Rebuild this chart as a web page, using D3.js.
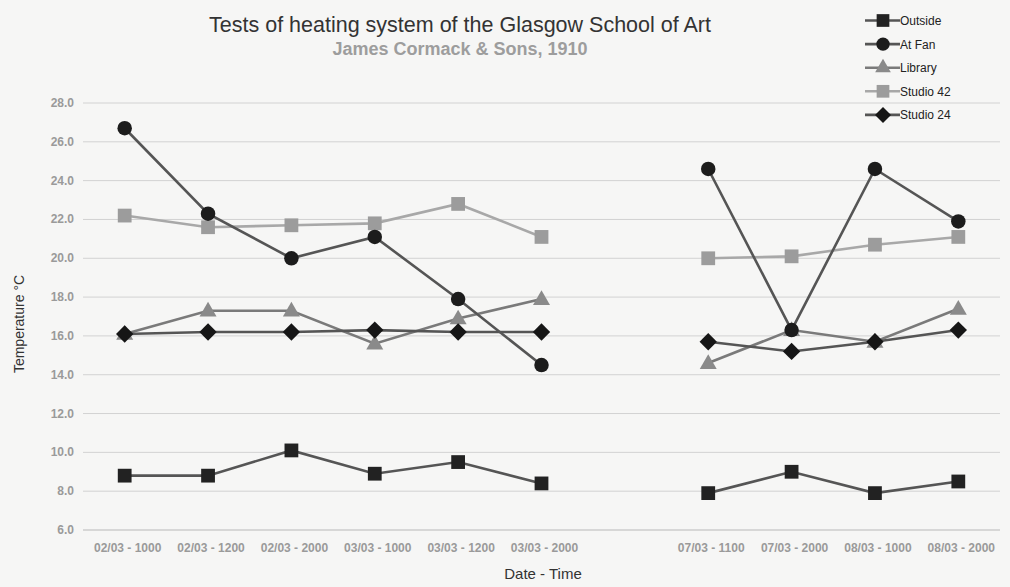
<!DOCTYPE html>
<html><head><meta charset="utf-8">
<script src="https://cdn.jsdelivr.net/npm/d3@7"></script>
<style>body{margin:0;background:#f6f6f5;} svg{display:block;}</style>
</head><body>
<svg id="c" width="1010" height="587"></svg>
<script>
const categories = ["02/03 - 1000","02/03 - 1200","02/03 - 2000","03/03 - 1000","03/03 - 1200","03/03 - 2000","","07/03 - 1100","07/03 - 2000","08/03 - 1000","08/03 - 2000"];
const outside  = [8.8, 8.8, 10.1, 8.9, 9.5, 8.4, null, 7.9, 9.0, 7.9, 8.5];
const atFan    = [26.7, 22.3, 20.0, 21.1, 17.9, 14.5, null, 24.6, 16.3, 24.6, 21.9];
const library  = [16.1, 17.3, 17.3, 15.6, 16.9, 17.9, null, 14.6, 16.3, 15.7, 17.4];
const studio42 = [22.2, 21.6, 21.7, 21.8, 22.8, 21.1, null, 20.0, 20.1, 20.7, 21.1];
const studio24 = [16.1, 16.2, 16.2, 16.3, 16.2, 16.2, null, 15.7, 15.2, 15.7, 16.3];
const yTicks = [6,8,10,12,14,16,18,20,22,24,26,28];
const seriesNames = ["Outside","At Fan","Library","Studio 42","Studio 24"];

const series = [
  {name: seriesNames[0], values: outside,  line:"#555", fill:"#222", sym: d3.symbolSquare, size: 190, rot: 0},
  {name: seriesNames[1], values: atFan,    line:"#555", fill:"#1c1c1c", sym: d3.symbolCircle, size: 165, rot: 0},
  {name: seriesNames[2], values: library,  line:"#7a7a7a", fill:"#8a8a8a", sym: d3.symbolTriangle, size: 125, rot: 0},
  {name: seriesNames[3], values: studio42, line:"#a8a8a8", fill:"#9c9c9c", sym: d3.symbolSquare, size: 190, rot: 0},
  {name: seriesNames[4], values: studio24, line:"#555", fill:"#161616", sym: d3.symbolSquare, size: 150, rot: 45}
];

const FONT = "Liberation Sans, Arial, sans-serif";
const svg = d3.select("#c");
const x = d3.scaleBand().domain(categories.map((c,i)=>i)).range([83, 1000]);
const y = d3.scaleLinear().domain([6, 28]).range([530, 103]);
const cx = i => x(i) + x.bandwidth()/2;

// gridlines
svg.append("g").selectAll("line").data(yTicks).join("line")
  .attr("x1", 83).attr("x2", 1000)
  .attr("y1", d => y(d)).attr("y2", d => y(d))
  .attr("stroke", d => d === 6 ? "#b8b8b8" : "#d2d2d2").attr("stroke-width", 1);

// y tick labels
svg.append("g").selectAll("text").data(yTicks).join("text")
  .attr("x", 74).attr("y", d => y(d) + 4)
  .attr("text-anchor", "end")
  .attr("font-family", FONT)
  .attr("font-size", 12).attr("font-weight", "bold").attr("fill", "#9a9a9a")
  .text(d => d3.format(".1f")(d));

// x tick labels
svg.append("g").selectAll("text").data(categories).join("text")
  .attr("x", (d,i) => cx(i) + 3).attr("y", 552)
  .attr("text-anchor", "middle")
  .attr("font-family", FONT)
  .attr("font-size", 12).attr("font-weight", "bold").attr("fill", "#9a9a9a")
  .text(d => d);

// axis titles
svg.append("text").attr("x", 543).attr("y", 579).attr("text-anchor","middle")
  .attr("font-family",FONT).attr("font-size",15).attr("fill","#333")
  .text("Date - Time");
svg.append("text").attr("transform","translate(24,324) rotate(-90)").attr("text-anchor","middle")
  .attr("font-family",FONT).attr("font-size",14).attr("fill","#333")
  .text("Temperature °C");

// titles
svg.append("text").attr("x", 460).attr("y", 32).attr("text-anchor","middle")
  .attr("font-family",FONT).attr("font-size",21.5).attr("fill","#333")
  .text("Tests of heating system of the Glasgow School of Art");
svg.append("text").attr("x", 460).attr("y", 55).attr("text-anchor","middle")
  .attr("font-family",FONT).attr("font-size",18).attr("font-weight","bold").attr("fill","#9d9d9d")
  .text("James Cormack & Sons, 1910");

// lines & markers
const lineGen = d3.line().defined(d => d.v !== null).x(d => cx(d.i)).y(d => y(d.v));
const drawOrder = [3, 2, 0, 4, 1];
drawOrder.forEach(k => {
  const s = series[k];
  const pts = s.values.map((v,i) => ({v, i}));
  svg.append("path").datum(pts).attr("d", lineGen)
    .attr("fill","none").attr("stroke", s.line).attr("stroke-width", 2.6);
});
drawOrder.forEach(k => {
  const s = series[k];
  const pts = s.values.map((v,i) => ({v, i})).filter(d => d.v !== null);
  svg.append("g").selectAll("path").data(pts).join("path")
    .attr("transform", d => `translate(${cx(d.i)},${y(d.v) + (s.sym===d3.symbolTriangle?1:0)}) rotate(${s.rot})`)
    .attr("d", d3.symbol().type(s.sym).size(s.size))
    .attr("fill", s.fill);
});

// legend
const lg = svg.append("g");
series.forEach((s, j) => {
  const ly = 20.5 + j * 23.6;
  lg.append("line").attr("x1", 865).attr("x2", 900).attr("y1", ly).attr("y2", ly)
    .attr("stroke", s.line).attr("stroke-width", 2.6);
  lg.append("path").attr("transform", `translate(883,${ly}) rotate(${s.rot})`)
    .attr("d", d3.symbol().type(s.sym).size(s.size*0.85)).attr("fill", s.fill);
  lg.append("text").attr("x", 900).attr("y", ly + 4.5)
    .attr("font-family",FONT).attr("font-size",12).attr("fill","#222")
    .text(s.name);
});
</script>
</body></html>
